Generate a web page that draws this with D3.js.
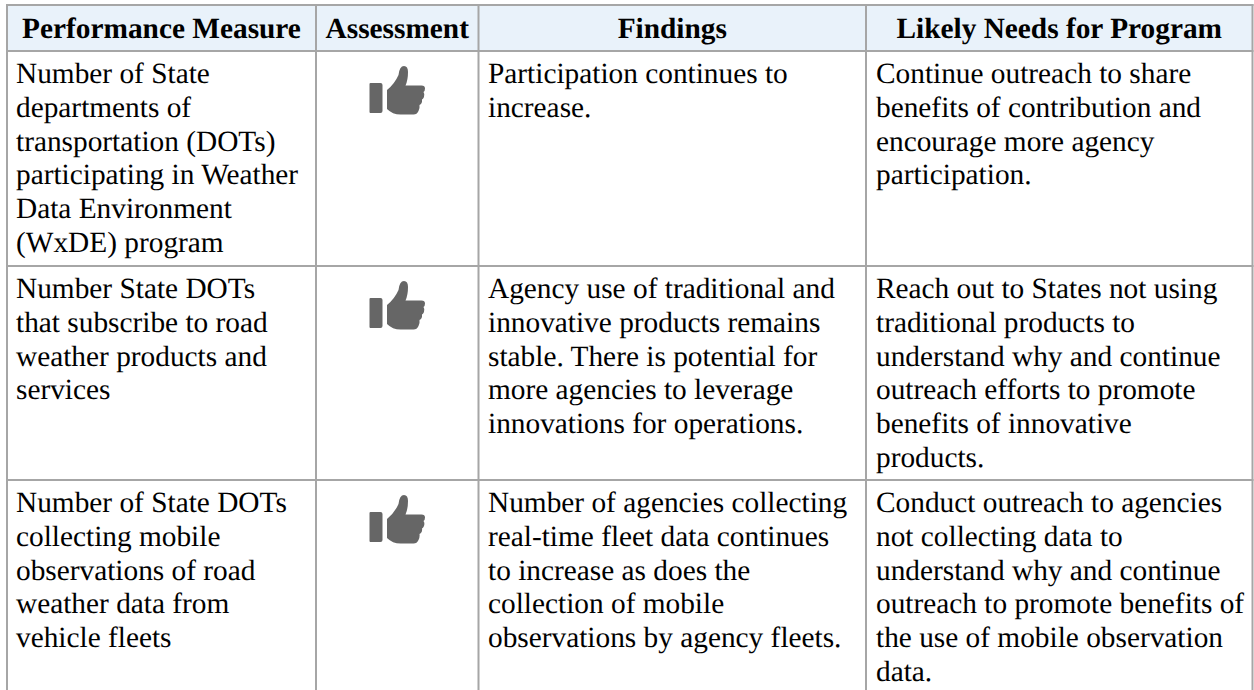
<!DOCTYPE html>
<html>
<head>
<meta charset="utf-8">
<script src="https://cdn.jsdelivr.net/npm/d3@7"></script>
<style>
  html, body { margin: 0; padding: 0; background: #fff; }
  svg { display: block; }
  text { font-family: "Liberation Serif", serif; fill: #000; text-rendering: geometricPrecision; }
</style>
</head>
<body>
<svg id="chart"></svg>
<script>
const width = 1254;
const height = 690;

const headers = ["Performance Measure", "Assessment", "Findings", "Likely Needs for Program"];

const measures = [
  ["Number of State", "departments of", "transportation (DOTs)", "participating in Weather", "Data Environment", "(WxDE) program"],
  ["Number State DOTs", "that subscribe to road", "weather products and", "services"],
  ["Number of State DOTs", "collecting mobile", "observations of road", "weather data from", "vehicle fleets"]
];

const findings = [
  ["Participation continues to", "increase."],
  ["Agency use of traditional and", "innovative products remains", "stable. There is potential for", "more agencies to leverage", "innovations for operations."],
  ["Number of agencies collecting", "real-time fleet data continues", "to increase as does the", "collection of mobile", "observations by agency fleets."]
];

const needs = [
  ["Continue outreach to share", "benefits of contribution and", "encourage more agency", "participation."],
  ["Reach out to States not using", "traditional products to", "understand why and continue", "outreach efforts to promote", "benefits of innovative", "products."],
  ["Conduct outreach to agencies", "not collecting data to", "understand why and continue", "outreach to promote benefits of", "the use of mobile observation", "data."]
];

const columnLines = [7, 316, 478.5, 866, 1252.5];
const rowLines = [5, 51, 266, 480, 690];

const borderColor = "#a6a6a6";
const headerFill = "#e9f2fa";
const iconColor = "#666666";
const lineHeight = 33.8;
const fontSize = 29.33;

const svg = d3.select("#chart")
  .attr("width", width)
  .attr("height", height);

// header band
svg.append("rect")
  .attr("x", columnLines[0])
  .attr("y", rowLines[0])
  .attr("width", columnLines[4] - columnLines[0])
  .attr("height", rowLines[1] - rowLines[0])
  .attr("fill", headerFill);

// grid
const grid = svg.append("g")
  .attr("stroke", borderColor)
  .attr("stroke-width", 2);

grid.selectAll("line.v")
  .data(columnLines)
  .join("line")
  .attr("class", "v")
  .attr("x1", d => d)
  .attr("x2", d => d)
  .attr("y1", rowLines[0] - 1)
  .attr("y2", height);

grid.selectAll("line.h")
  .data(rowLines.slice(0, 4))
  .join("line")
  .attr("class", "h")
  .attr("x1", columnLines[0] - 1)
  .attr("x2", columnLines[4] + 1)
  .attr("y1", d => d)
  .attr("y2", d => d);

// header labels
svg.append("g").selectAll("text")
  .data(headers)
  .join("text")
  .attr("x", (d, i) => (columnLines[i] + columnLines[i + 1]) / 2)
  .attr("y", 38)
  .attr("text-anchor", "middle")
  .attr("font-weight", "bold")
  .attr("font-size", fontSize)
  .text(d => d);

// body cells
function drawColumn(rows, x) {
  rows.forEach((lines, r) => {
    svg.append("g").selectAll("text")
      .data(lines)
      .join("text")
      .attr("x", x)
      .attr("y", (d, i) => rowLines[r + 1] + 32 + i * lineHeight)
      .attr("font-size", fontSize)
      .text(d => d);
  });
}

drawColumn(measures, 16);
drawColumn(findings, 488);
drawColumn(needs, 876);

// thumbs-up icon, one per row
const thumb = "M0 18q0-1 1-1h10q2 0 2 2v26q0 2-2 2H1q-1 0-1-1zM17.5 24Q25 18 29 9 30 0 34.5 0 38.5 0 38.5 6 38.5 14 36 19.5H52Q55.5 19.5 55.5 22.5 55.5 25 54 26 55.5 28 54.5 31 53.5 33 52.5 33.5 53 36 51.5 38L50 39Q50.5 42 49 45 47.5 48.5 44 48.5H31Q23 48.5 17.5 43Z";
svg.append("g").selectAll("path")
  .data(measures)
  .join("path")
  .attr("d", thumb)
  .attr("fill", iconColor)
  .attr("transform", (d, i) => `translate(369.5,${rowLines[i + 1] + 15})`);
</script>
</body>
</html>
